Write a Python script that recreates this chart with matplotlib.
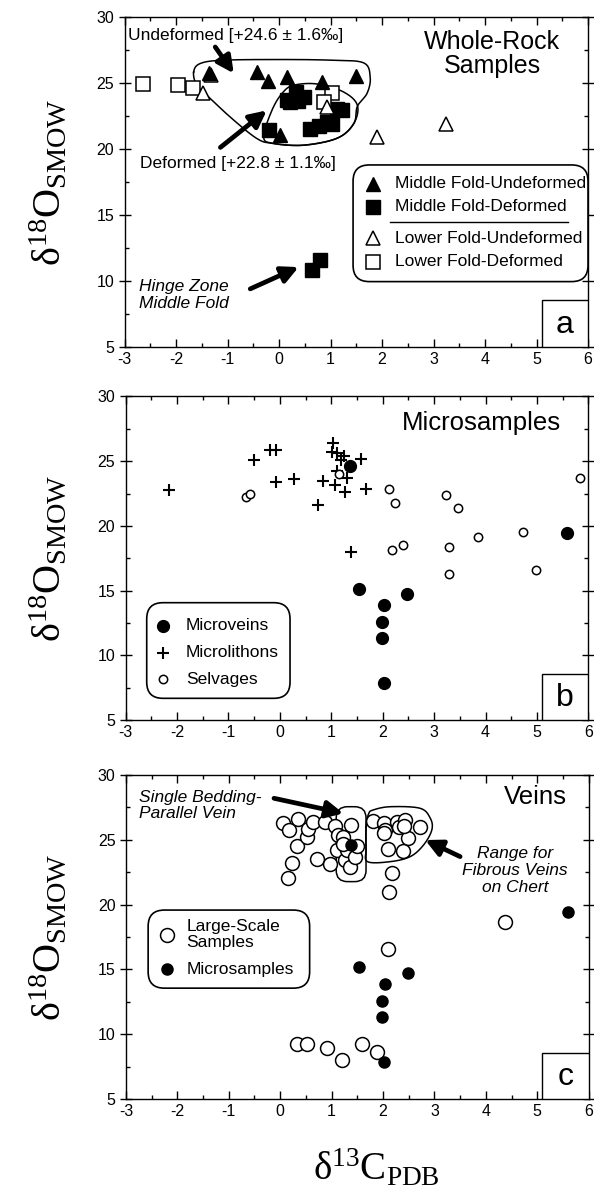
import numpy as np
import matplotlib
matplotlib.use('Agg')
import matplotlib.pyplot as plt
from matplotlib.patches import FancyBboxPatch, Rectangle

plt.rcParams['font.family'] = ['Liberation Sans', 'DejaVu Sans']
plt.rcParams['axes.unicode_minus'] = False
plt.rcParams['mathtext.fontset'] = 'custom'
plt.rcParams['mathtext.rm'] = 'Liberation Serif'
plt.rcParams['mathtext.it'] = 'Liberation Serif:italic'

# (a) whole-rock samples, d13C / d18O
mfu_x = [-1.37, -0.43, -0.22, 0.15, 0.83, 1.50, 0.02]
mfu_y = [25.7, 25.8, 25.1, 25.4, 25.06, 25.5, 21.02]
mfd_x = [0.15, 0.32, 0.48, 0.36, 0.22, 1.13, 1.22, -0.19, 0.61, 0.77, 0.93, 1.03, 0.64, 0.79]
mfd_y = [23.7, 24.3, 23.9, 23.6, 23.5, 23.0, 22.9, 21.4, 21.53, 21.7, 22.03, 21.9, 10.8, 11.6]
lfu_x = [-1.33, -1.48, 0.93, 1.90, 3.25]
lfu_y = [25.6, 24.2, 23.17, 20.9, 21.9]
lfd_x = [-2.64, -1.96, -1.68, 1.03, 0.87]
lfd_y = [24.9, 24.8, 24.6, 24.18, 23.55]

# (b) microsamples
micro_x = [1.37, 1.53, 2.03, 1.98, 1.98, 2.02, 2.48, 5.59]
micro_y = [24.6, 15.15, 13.9, 12.55, 11.3, 7.85, 14.7, 19.45]
lith_x = [-2.15, -0.51, -0.19, -0.08, -0.08, 0.28, 0.75, 0.83, 1.03, 1.01,
          1.12, 1.24, 1.19, 1.11, 1.08, 1.30, 1.27, 1.58, 1.68, 1.39]
lith_y = [22.77, 25.1, 25.87, 25.85, 23.37, 23.6, 21.6, 23.5, 26.4, 25.7,
          25.6, 25.4, 25.1, 24.27, 23.15, 23.7, 22.65, 25.15, 22.83, 17.96]
selv_x = [-0.66, -0.58, 1.16, 2.13, 2.24, 3.24, 3.46, 5.84, 2.18, 2.39, 3.29, 3.29, 3.86, 4.72, 4.99]
selv_y = [22.26, 22.5, 24.0, 22.85, 21.8, 22.4, 21.36, 23.68, 18.14, 18.52, 18.35, 16.28, 19.17, 19.55, 16.59]

# (c) veins, large-scale samples
large_x = [0.05, 0.18, 0.35, 0.32, 0.23, 0.16, 0.52, 0.55, 0.63, 0.71,
           0.87, 0.97, 1.07, 1.13, 1.10, 1.23, 1.27, 1.30, 1.37, 1.35,
           1.46, 1.49, 1.23, 1.80, 2.01, 2.04, 2.01, 2.10, 2.18, 2.12,
           2.27, 2.32, 2.43, 2.49, 2.38, 2.72, 2.40, 4.38, 2.09, 0.33,
           0.52, 0.92, 1.21, 1.59, 1.88]
large_y = [26.32, 25.76, 26.58, 24.52, 23.19, 22.03, 25.19, 25.8, 26.4, 23.52,
           26.4, 23.13, 26.1, 25.37, 24.21, 25.24, 23.4, 24.2, 26.14, 22.93,
           23.7, 24.5, 24.65, 26.45, 26.27, 25.76, 25.5, 24.27, 22.46, 21.0,
           26.4, 26.0, 26.52, 25.16, 24.1, 26.01, 26.1, 18.68, 16.57, 9.22,
           9.22, 8.91, 8.01, 9.24, 8.65]

# outlines drawn around sample groups
undef_loop_x = [-1.66, -1.53, -1.08, 0.05, 1.0, 1.64, 1.77, 1.71, 1.52, 1.45, 1.13, 0.48, -0.11, -0.43, -0.95, -1.40, -1.6]
undef_loop_y = [25.8, 26.45, 26.7, 26.75, 26.7, 26.5, 25.4, 24.2, 23.2, 21.9, 20.8, 20.27, 20.4, 20.77, 22.4, 24.05, 24.8]
def_loop_x = [-0.30, -0.14, 0.06, 0.28, 0.74, 1.25, 1.52, 1.45, 1.13, 0.48, -0.11]
def_loop_y = [20.9, 22.9, 24.2, 24.8, 24.9, 24.3, 23.3, 21.9, 20.8, 20.27, 20.4]
fib_loop_x = [1.67, 1.72, 1.81, 2.14, 2.72, 2.92, 2.95, 2.79, 2.53, 2.14, 1.70, 1.67]
fib_loop_y = [26.0, 27.0, 27.3, 27.55, 27.43, 26.66, 25.76, 24.6, 23.7, 23.31, 23.31, 24.3]


def smooth_loop(xs, ys, n=24):
    # closed Catmull-Rom curve through the given vertices
    pts = np.column_stack([xs, ys])
    m = len(pts)
    t = np.linspace(0, 1, n, endpoint=False)[:, None]
    segs = []
    for i in range(m):
        p0, p1, p2, p3 = pts[i - 1], pts[i], pts[(i + 1) % m], pts[(i + 2) % m]
        segs.append(0.5 * (2 * p1 + (-p0 + p2) * t + (2 * p0 - 5 * p1 + 4 * p2 - p3) * t ** 2
                           + (-p0 + 3 * p1 - 3 * p2 + p3) * t ** 3))
    c = np.vstack(segs + [pts[:1]])
    return c[:, 0], c[:, 1]


def arrow(ax, tail, head):
    ax.annotate('', xy=head, xytext=tail,
                arrowprops=dict(arrowstyle='-|>,head_length=1.0,head_width=0.5', lw=3.4,
                                color='k', shrinkA=0, shrinkB=0))


def setup(ax, letter):
    ax.set_xlim(-3, 6)
    ax.set_ylim(5, 30)
    ax.set_xticks(range(-3, 7))
    ax.set_xticks(np.arange(-3, 6.01, 0.5), minor=True)
    ax.set_yticks(range(5, 31, 5))
    ax.set_yticks(np.arange(5, 30.01, 2.5), minor=True)
    ax.tick_params(which='both', direction='in', top=True, right=True, labelsize=11.5, width=1)
    ax.tick_params(which='major', length=6)
    ax.tick_params(which='minor', length=3)
    ax.tick_params(axis='y', which='major', direction='inout', length=8)
    for s in ax.spines.values():
        s.set_linewidth(1)
    ax.add_patch(Rectangle((0.9, 0), 0.1, 0.142, transform=ax.transAxes, fc='white',
                           ec='k', lw=1, zorder=6))
    ax.text(0.95, 0.068, letter, transform=ax.transAxes, ha='center', va='center',
            fontsize=23, zorder=7)


def legend_box(ax, x0, y0, x1, y1):
    bb = ax.get_window_extent()
    asp = bb.width / bb.height
    ax.add_patch(FancyBboxPatch((x0, y0), x1 - x0, y1 - y0,
                                boxstyle='round,pad=0,rounding_size=0.035', mutation_aspect=asp,
                                transform=ax.transAxes, fc='white', ec='k', lw=1.2, zorder=5))


def legend_mark(ax, x, y, **kw):
    kw['ls'] = 'none'
    ax.plot([x], [y], transform=ax.transAxes, clip_on=False, zorder=6, **kw)


fig = plt.figure(figsize=(5.94, 12), dpi=100)
ax_a = fig.add_axes([0.2098, 0.7108, 0.7801, 0.2754])
ax_b = fig.add_axes([0.2113, 0.4, 0.7793, 0.2696])
ax_c = fig.add_axes([0.2120, 0.0842, 0.7790, 0.27])

tri_f = dict(marker='^', ms=10, mfc='k', mec='k', ls='none')
tri_o = dict(marker='^', ms=10, mfc='white', mec='k', mew=1.1, ls='none')
sq_f = dict(marker='s', ms=9.5, mfc='k', mec='k', ls='none')
sq_o = dict(marker='s', ms=9.5, mfc='white', mec='k', mew=1.1, ls='none')

# ---- (a) whole rock
ax = ax_a
setup(ax, 'a')
ux, uy = smooth_loop(undef_loop_x, undef_loop_y)
dx, dy = smooth_loop(def_loop_x, def_loop_y)
ax.plot(ux, uy, color='k', lw=1.1, zorder=1)
ax.plot(dx, dy, color='k', lw=1.1, zorder=1)
ax.plot(mfd_x, mfd_y, zorder=2, **sq_f)
ax.plot(lfd_x, lfd_y, zorder=3, **sq_o)
ax.plot(lfu_x, lfu_y, zorder=3, **tri_o)
ax.plot(mfu_x, mfu_y, zorder=4, **tri_f)
ax.text(-2.93, 28.6, 'Undeformed [+24.6 ± 1.6‰]', fontsize=12.5, va='center')
ax.text(-2.70, 18.9, 'Deformed [+22.8 ± 1.1‰]', fontsize=12.5, va='center')
arrow(ax, (-1.24, 27.7), (-0.88, 25.7))
arrow(ax, (-1.14, 20.1), (-0.24, 22.9))
arrow(ax, (-0.56, 9.4), (0.38, 11.05))
ax.text(-2.72, 8.95, 'Hinge Zone\nMiddle Fold', fontsize=12.5, style='italic',
        va='center', linespacing=1.15)
ax.text(4.14, 27.15, 'Whole-Rock\nSamples', fontsize=18, ha='center', va='center',
        linespacing=1.0)

legend_box(ax, 0.493, 0.198, 1.0, 0.551)
legend_mark(ax, 0.537, 0.494, **tri_f)
legend_mark(ax, 0.537, 0.424, **sq_f)
legend_mark(ax, 0.537, 0.329, **tri_o)
legend_mark(ax, 0.537, 0.258, **sq_o)
ax.plot([0.573, 0.957], [0.379, 0.379], color='k', lw=1, transform=ax.transAxes, zorder=6)
for yy, lab in zip([0.494, 0.424, 0.329, 0.258],
                   ['Middle Fold-Undeformed', 'Middle Fold-Deformed',
                    'Lower Fold-Undeformed', 'Lower Fold-Deformed']):
    ax.text(0.583, yy, lab, transform=ax.transAxes, fontsize=12.5, va='center', zorder=7)

# ---- (b) microsamples
ax = ax_b
setup(ax, 'b')
ax.plot(lith_x, lith_y, marker='+', ms=8, mew=1.5, color='k', ls='none', zorder=2)
ax.plot(selv_x, selv_y, marker='o', ms=6, mfc='white', mec='k', mew=1.1, ls='none', zorder=3)
ax.plot(micro_x, micro_y, marker='o', ms=8.5, color='k', ls='none', zorder=4)
ax.text(3.92, 27.95, 'Microsamples', fontsize=18.5, ha='center', va='center')
legend_box(ax, 0.0458, 0.067, 0.3554, 0.3626)
legend_mark(ax, 0.0817, 0.2906, marker='o', ms=8.5, color='k')
legend_mark(ax, 0.0817, 0.208, marker='+', ms=8, mew=1.5, color='k')
legend_mark(ax, 0.0817, 0.1258, marker='o', ms=6, mfc='white', mec='k', mew=1.1)
for yy, lab in zip([0.2906, 0.208, 0.1258], ['Microveins', 'Microlithons', 'Selvages']):
    ax.text(0.130, yy, lab, transform=ax.transAxes, fontsize=12.5, va='center', zorder=7)

# ---- (c) veins
ax = ax_c
setup(ax, 'c')
bx0, bx1, by0, by1 = 1.09, 1.67, 21.77, 27.55
ax.add_patch(FancyBboxPatch((bx0, by0), bx1 - bx0, by1 - by0,
                            boxstyle='round,pad=0,rounding_size=0.22', mutation_aspect=3.97,
                            fc='none', ec='k', lw=1.1, zorder=1))
fx, fy = smooth_loop(fib_loop_x, fib_loop_y)
ax.plot(fx, fy, color='k', lw=1.1, zorder=1)
ax.plot(large_x, large_y, marker='o', ms=10, mfc='white', mec='k', mew=1.1, ls='none', zorder=2)
ax.plot(micro_x, micro_y, marker='o', ms=8, color='k', ls='none', zorder=3)
ax.text(4.96, 28.3, 'Veins', fontsize=18.5, ha='center', va='center')
ax.text(-2.75, 27.65, 'Single Bedding-\nParallel Vein', fontsize=12.5, style='italic',
        va='center', linespacing=1.15)
arrow(ax, (-0.12, 28.2), (1.23, 27.04))
ax.text(4.57, 22.65, 'Range for\nFibrous Veins\non Chert', fontsize=12.5, style='italic',
        ha='center', va='center', linespacing=1.15)
arrow(ax, (3.5, 23.7), (2.82, 24.98))
legend_box(ax, 0.048, 0.342, 0.397, 0.583)
legend_mark(ax, 0.089, 0.506, marker='o', ms=10, mfc='white', mec='k', mew=1.1)
legend_mark(ax, 0.089, 0.401, marker='o', ms=8, color='k')
ax.text(0.131, 0.508, 'Large-Scale\nSamples', transform=ax.transAxes, fontsize=12.5,
        va='center', linespacing=1.1, zorder=7)
ax.text(0.131, 0.401, 'Microsamples', transform=ax.transAxes, fontsize=12.5,
        va='center', zorder=7)

# axis titles
ylab = r'$\mathrm{δ^{18}O_{SMOW}}$'
for ax in (ax_a, ax_b, ax_c):
    pos = ax.get_position()
    fig.text(0.081, pos.y0 + pos.height / 2, ylab, rotation=90, ha='center', va='center',
             fontsize=29)
fig.text(376 / 594, 1 - 1168 / 1200, r'$\mathrm{δ^{13}C_{PDB}}$', ha='center', va='center',
         fontsize=28)

fig.savefig('out.png', dpi=100)
